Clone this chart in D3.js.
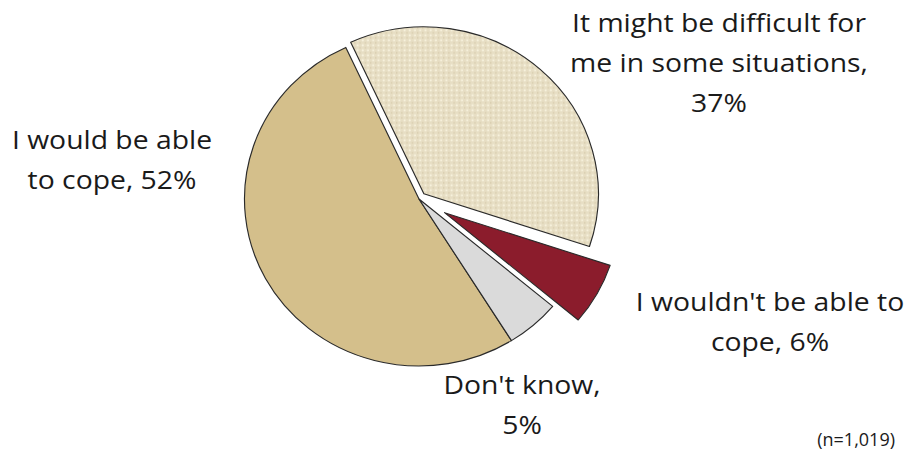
<!DOCTYPE html>
<html>
<head>
<meta charset="utf-8">
<script src="https://cdn.jsdelivr.net/npm/d3@7"></script>
<style>
  body { margin: 0; background: #fff; }
  text { font-family: "Open Sans", sans-serif; fill: #1a1a1a; }
</style>
</head>
<body>
<svg></svg>
<script>
// pie of answers, order as drawn clockwise starting from the big slice
var categories = ["I would be able to cope", "It might be difficult for me in some situations", "I wouldn't be able to cope", "Don't know"];
var values = [52, 37, 6, 5];
var labelLines = [
  ["I would be able", "to cope, 52%"],
  ["It might be difficult for", "me in some situations,", "37%"],
  ["I wouldn't be able to", "cope, 6%"],
  ["Don't know,", "5%"]
];
var note = "(n=1,019)";

var svgWidth = 909, svgHeight = 455;
var cx = 419, cy = 199, radius = 167, stretch = 1.045;

var svg = d3.select("svg")
  .attr("width", svgWidth)
  .attr("height", svgHeight);

// dotted fill for the 37% slice
var pat = svg.append("defs").append("pattern")
  .attr("id", "dots")
  .attr("width", 5).attr("height", 5)
  .attr("patternUnits", "userSpaceOnUse");
pat.append("rect").attr("width", 5).attr("height", 5).attr("fill", "#e7dec4");
pat.append("circle").attr("cx", 1.5).attr("cy", 1.5).attr("r", 1).attr("fill", "#f9f4e0");
pat.append("circle").attr("cx", 4).attr("cy", 4).attr("r", 0.7).attr("fill", "#d3c7a6");

var fills = ["#d4bf8b", "url(#dots)", "#8b1c2c", "#dadada"];
var explode = [0, 7, 28, 0];

var pie = d3.pie()
  .sort(null)
  .startAngle(148 * Math.PI / 180)
  .endAngle(148 * Math.PI / 180 + 2 * Math.PI);

var arc = d3.arc().innerRadius(0).outerRadius(radius);

var g = svg.append("g")
  .attr("transform", "translate(" + cx + "," + cy + ") scale(" + stretch + ",1)");

g.selectAll("path")
  .data(pie(values))
  .enter()
  .append("path")
  .attr("d", arc)
  .attr("fill", function(d, i) { return fills[i]; })
  .attr("stroke", "#2a2a2a")
  .attr("stroke-width", 1.1)
  .attr("stroke-linejoin", "round")
  .attr("transform", function(d, i) {
    var mid = (d.startAngle + d.endAngle) / 2;
    return "translate(" + [Math.sin(mid) * explode[i], -Math.cos(mid) * explode[i]] + ")";
  });

// labels
var labelPos = [[112, 149], [719, 32], [770, 311], [522, 394]];
var lineH = 40;

svg.selectAll("text.lbl")
  .data(labelLines)
  .enter()
  .append("text")
  .attr("class", "lbl")
  .attr("text-anchor", "middle")
  .attr("font-size", 26)
  .attr("transform", function(d, i) {
    return "translate(" + labelPos[i] + ") scale(1.09,1)";
  })
  .each(function(lines) {
    d3.select(this).selectAll("tspan")
      .data(lines)
      .enter()
      .append("tspan")
      .attr("x", 0)
      .attr("y", function(t, j) { return j * lineH; })
      .text(function(t) { return t; });
  });

svg.append("text")
  .attr("x", 895)
  .attr("y", 446)
  .attr("text-anchor", "end")
  .attr("font-size", 18)
  .text(note);
</script>
</body>
</html>
